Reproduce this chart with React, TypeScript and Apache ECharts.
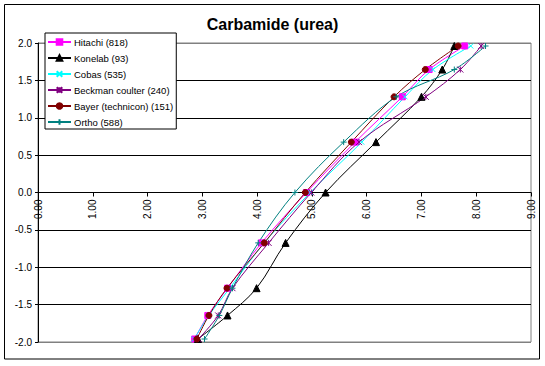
import React, { useEffect, useRef } from 'react';
import * as echarts from 'echarts';

const zScores = [-1.96, -1.645, -1.28, -0.674, 0, 0.674, 1.28, 1.645, 1.96];
const seriesNames = ['Hitachi (818)', 'Konelab (93)', 'Cobas (535)', 'Beckman coulter (240)', 'Bayer (technicon) (151)', 'Ortho (588)'];
const hitachi = [2.86, 3.10, 3.46, 4.08, 4.90, 5.79, 6.65, 7.14, 7.79];
const konelab = [2.92, 3.46, 3.99, 4.52, 5.25, 6.17, 7.00, 7.38, 7.60];
const cobas = [2.85, 3.12, 3.50, 4.13, 4.97, 5.91, 6.70, 7.21, 7.90];
const beckman = [2.93, 3.29, 3.55, 4.21, 4.99, 5.86, 7.08, 7.71, 8.09];
const bayer = [2.90, 3.12, 3.45, 4.13, 4.88, 5.72, 6.50, 7.07, 7.67];
const ortho = [3.04, 3.31, 3.55, 4.02, 4.69, 5.58, 6.54, 7.60, 8.17];
const xTicks = [0, 1, 2, 3, 4, 5, 6, 7, 8, 9];
const yTicks = [-2, -1.5, -1, -0.5, 0, 0.5, 1, 1.5, 2];

const FONT = 'Liberation Sans, Arial, sans-serif';

const styles = [
  { color: '#FF00FF', symbol: 'rect', size: 6 },
  { color: '#000000', symbol: 'triangle', size: 7 },
  { color: '#00FFFF', symbol: 'path://M0,0L10,10M10,0L0,10', size: 5 },
  { color: '#800080', symbol: 'path://M0,0L10,10M10,0L0,10M5,0L5,10', size: 6 },
  { color: '#800000', symbol: 'circle', size: 6 },
  { color: '#008080', symbol: 'path://M5,0L5,10M0,5L10,5', size: 6 },
];

const GRID_TOP = 43;
const GRID_BOTTOM = 24;
const CHART_H = 366;

export default function App() {
  const ref = useRef<HTMLDivElement>(null);
  useEffect(() => {
    if (!ref.current) return;
    const chart = echarts.init(ref.current, undefined, { renderer: 'svg' });
    const allX = [hitachi, konelab, cobas, beckman, bayer, ortho];
    const gridColors = yTicks.map((v, i) => (i === 0 || i === yTicks.length - 1 ? '#808080' : '#000000'));
    const plotH = CHART_H - GRID_TOP - GRID_BOTTOM;
    const yMin = yTicks[0];
    const yMax = yTicks[yTicks.length - 1];
    const zeroOffset = -plotH * (0 - yMin) / (yMax - yMin);
    chart.setOption({
      animation: false,
      backgroundColor: '#ffffff',
      title: {
        text: 'Carbamide (urea)',
        left: 'center',
        top: 16,
        padding: 0,
        textStyle: { fontFamily: FONT, fontSize: 16, fontWeight: 'bold', color: '#000' },
      },
      legend: {
        orient: 'vertical',
        left: 45,
        top: 33,
        padding: [4, 3, 2, 2],
        itemGap: 6,
        itemWidth: 23,
        itemHeight: 7,
        borderColor: '#000',
        borderWidth: 1,
        backgroundColor: '#fff',
        data: seriesNames,
        textStyle: { fontFamily: FONT, fontSize: 9.5, color: '#000', lineHeight: 10, padding: [0, 0, 0, -2] },
      },
      grid: {
        left: 38,
        right: 14,
        top: GRID_TOP,
        bottom: GRID_BOTTOM,
        show: true,
        borderColor: '#808080',
        borderWidth: 1,
        backgroundColor: '#fff',
      },
      xAxis: {
        type: 'value',
        min: xTicks[0],
        max: xTicks[xTicks.length - 1],
        interval: 1,
        position: 'bottom',
        offset: zeroOffset,
        axisLine: { show: true, onZero: false, lineStyle: { color: '#000', width: 1 } },
        axisTick: { show: true, length: 4, lineStyle: { color: '#000' } },
        axisLabel: {
          rotate: 90,
          margin: 7,
          fontFamily: FONT,
          fontSize: 10,
          color: '#000',
          formatter: (v: number) => v.toFixed(2),
        },
        splitLine: { show: false },
      },
      yAxis: {
        type: 'value',
        min: yMin,
        max: yMax,
        interval: 0.5,
        axisLine: { show: true, onZero: false, lineStyle: { color: '#000', width: 1 } },
        axisTick: { show: true, length: 3, lineStyle: { color: '#000' } },
        axisLabel: {
          margin: 6,
          fontFamily: FONT,
          fontSize: 10,
          color: '#000',
          formatter: (v: number) => v.toFixed(1),
        },
        splitLine: { show: true, lineStyle: { color: gridColors, width: 1 } },
      },
      graphic: [
        {
          type: 'rect',
          shape: { x: 4.5, y: 4.5, width: 535, height: 354.5 },
          style: { fill: 'none', stroke: '#000', lineWidth: 1 },
          silent: true,
        },
      ],
      series: seriesNames.map((name, i) => ({
        name,
        type: 'line',
        smooth: 0.35,
        symbol: styles[i].symbol,
        symbolSize: styles[i].size,
        showSymbol: true,
        lineStyle: { color: styles[i].color, width: 1 },
        itemStyle: { color: styles[i].color, borderColor: styles[i].color, borderWidth: 1 },
        data: allX[i].map((x, j) => [x, zScores[j]]),
      })),
    });
    return () => chart.dispose();
  }, []);
  return <div ref={ref} style={{ width: 545, height: 366, position: 'absolute', left: 0, top: 0 }} />;
}
